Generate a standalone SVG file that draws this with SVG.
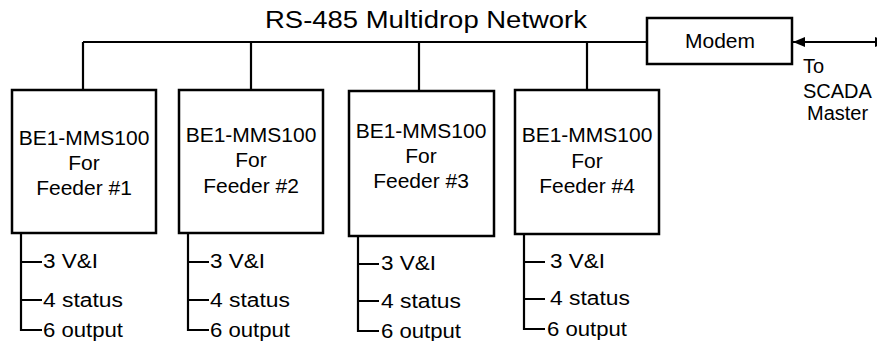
<svg xmlns="http://www.w3.org/2000/svg" width="877" height="341" viewBox="0 0 877 341">
<style>
  .ln{stroke:#000;stroke-width:2.2;fill:none}
  .bx{stroke:#000;stroke-width:2.5;fill:#fff}
  text{font-family:"Liberation Sans",Arial,sans-serif;fill:#000}
  .t{font-size:21px;text-anchor:middle}
  .s{font-size:20px}
</style>
<defs>
  <marker id="ah" markerWidth="12" markerHeight="10" refX="12" refY="5" orient="auto-start-reverse" markerUnits="userSpaceOnUse">
    <path d="M0,0 L12,5 L0,10 Z" fill="#000"/>
  </marker>
</defs>
<rect width="877" height="341" fill="#fff"/>
<text x="265" y="28" font-size="23" textLength="322" lengthAdjust="spacingAndGlyphs">RS-485 Multidrop Network</text>
<g id="connectors">
  <path class="ln" d="M83,42 H647 M83,42 V90 M251,42 V90 M419,42 V91 M587,42 V90"/>
  <line class="ln" x1="793" y1="42" x2="887" y2="42" marker-start="url(#ah)" marker-end="url(#ah)"/>
  <path class="ln" d="M21,233 V330 H42 M21,262 H42 M21,300 H42"/>
  <path class="ln" d="M188,233 V330 H209 M188,262 H209 M188,300 H209"/>
  <path class="ln" d="M358,236 V331 H379 M358,264 H379 M358,301 H379"/>
  <path class="ln" d="M524,234 V329 H545 M524,262 H545 M524,299 H545"/>
</g>
<g id="modem">
  <rect class="bx" x="647" y="18" width="145" height="46"/>
  <text class="t" x="720" y="48">Modem</text>
</g>
<g id="scada-label">
  <text class="s" x="803" y="73">To</text>
  <text class="s" x="803" y="98">SCADA</text>
  <text class="s" x="807" y="120">Master</text>
</g>
<g id="feeder1">
  <rect class="bx" x="12" y="90" width="144" height="143"/>
  <text class="t" x="84" y="145">BE1-MMS100</text>
  <text class="t" x="84" y="170">For</text>
  <text class="t" x="84" y="195">Feeder #1</text>
  <text class="s" x="43" y="268" textLength="55" lengthAdjust="spacingAndGlyphs">3 V&amp;I</text>
  <text class="s" x="43" y="307" textLength="80" lengthAdjust="spacingAndGlyphs">4 status</text>
  <text class="s" x="43" y="337" textLength="80" lengthAdjust="spacingAndGlyphs">6 output</text>
</g>
<g id="feeder2">
  <rect class="bx" x="179" y="90" width="144" height="143"/>
  <text class="t" x="251" y="142">BE1-MMS100</text>
  <text class="t" x="251" y="167">For</text>
  <text class="t" x="251" y="193">Feeder #2</text>
  <text class="s" x="210" y="268" textLength="55" lengthAdjust="spacingAndGlyphs">3 V&amp;I</text>
  <text class="s" x="210" y="307" textLength="80" lengthAdjust="spacingAndGlyphs">4 status</text>
  <text class="s" x="210" y="337" textLength="80" lengthAdjust="spacingAndGlyphs">6 output</text>
</g>
<g id="feeder3">
  <rect class="bx" x="349" y="91" width="145" height="145"/>
  <text class="t" x="421" y="138">BE1-MMS100</text>
  <text class="t" x="421" y="163">For</text>
  <text class="t" x="421" y="188">Feeder #3</text>
  <text class="s" x="381" y="270" textLength="55" lengthAdjust="spacingAndGlyphs">3 V&amp;I</text>
  <text class="s" x="381" y="308" textLength="80" lengthAdjust="spacingAndGlyphs">4 status</text>
  <text class="s" x="381" y="338" textLength="80" lengthAdjust="spacingAndGlyphs">6 output</text>
</g>
<g id="feeder4">
  <rect class="bx" x="515" y="90" width="144" height="144"/>
  <text class="t" x="587" y="142">BE1-MMS100</text>
  <text class="t" x="587" y="168">For</text>
  <text class="t" x="587" y="193">Feeder #4</text>
  <text class="s" x="550" y="268" textLength="55" lengthAdjust="spacingAndGlyphs">3 V&amp;I</text>
  <text class="s" x="550" y="305" textLength="80" lengthAdjust="spacingAndGlyphs">4 status</text>
  <text class="s" x="547" y="336" textLength="80" lengthAdjust="spacingAndGlyphs">6 output</text>
</g>
</svg>
